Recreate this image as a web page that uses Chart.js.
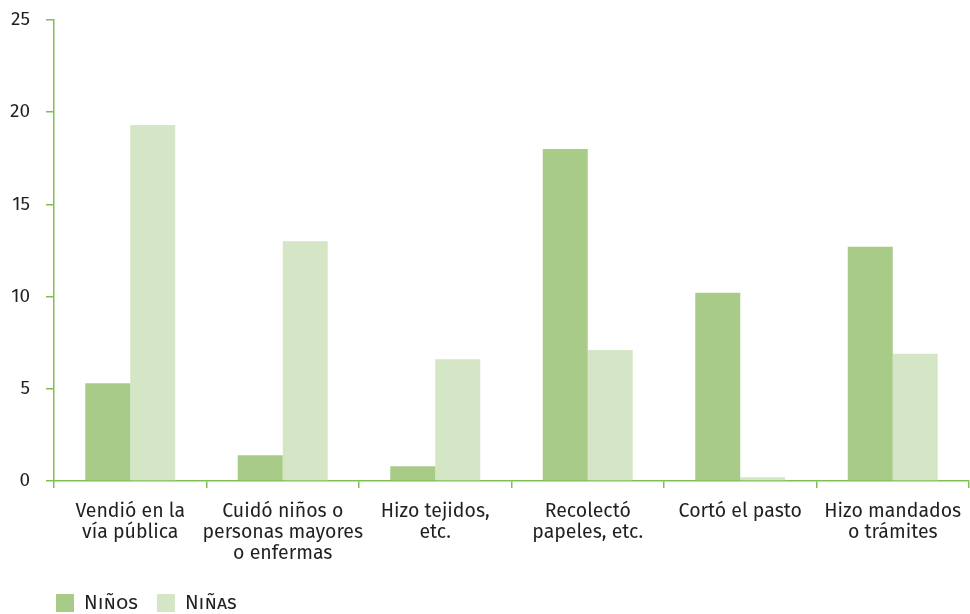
<!DOCTYPE html>
<html>
<head>
<meta charset="utf-8">
<script src="https://cdn.jsdelivr.net/npm/chart.js@4"></script>
<style>
  body { margin: 0; background: #ffffff; }
  #wrap { width: 970px; height: 614px; position: relative; }
</style>
</head>
<body>
<div id="wrap"><canvas id="myChart"></canvas></div>
<script>
const categories = [
  ["Vendió en la", "vía pública"],
  ["Cuidó niños o", "personas mayores", "o enfermas"],
  ["Hizo tejidos,", "etc."],
  ["Recolectó", "papeles, etc."],
  ["Cortó el pasto"],
  ["Hizo mandados", "o trámites"]
];
const ninos = [5.3, 1.4, 0.8, 18.0, 10.2, 12.7];
const ninas = [19.3, 13.0, 6.6, 7.1, 0.2, 6.9];
const yMax = 25;
const yStep = 5;

const axisGreen = "#7cc152";
const textColor = "#231f20";
const fontFamily = "'Fira Sans', 'Open Sans', sans-serif";

const ctx = document.getElementById("myChart").getContext("2d");

/* legend sits under the plot, lined up with the y axis */
const legendShift = {
  id: "legendShift",
  afterLayout(chart) {
    const lg = chart.legend;
    lg.left += 37;
    lg.right += 37;
    lg.top += 9;
    lg.bottom += 9;
  }
};

/* ---------- CHART ---------- */

new Chart(ctx, {
  type: "bar",
  data: {
    labels: categories,
    datasets: [
      {
        label: "Niños",
        data: ninos,
        backgroundColor: "#a8cc88",
        borderWidth: 0,
        barPercentage: 1,
        categoryPercentage: 0.59
      },
      {
        label: "Niñas",
        data: ninas,
        backgroundColor: "#d5e6c6",
        borderWidth: 0,
        barPercentage: 1,
        categoryPercentage: 0.59
      }
    ]
  },
  plugins: [legendShift],
  options: {
    responsive: true,
    maintainAspectRatio: false,
    animation: false,
    layout: { padding: { left: 0, right: 1, top: 0, bottom: 0 } },
    plugins: {
      tooltip: { enabled: false },
      legend: {
        position: "bottom",
        align: "start",
        labels: {
          color: textColor,
          boxWidth: 18,
          boxHeight: 18,
          padding: 19,
          font: { family: fontFamily, size: 20, weight: "small-caps" }
        }
      }
    },
    scales: {
      x: {
        afterFit: function (scale) {
          scale.height = 84;
          scale.paddingLeft = 0;
          scale.paddingRight = 0;
        },
        grid: {
          drawOnChartArea: false,
          drawTicks: true,
          tickLength: 7,
          color: axisGreen,
          lineWidth: 1.5
        },
        border: { color: axisGreen, width: 1.5 },
        ticks: {
          color: textColor,
          maxRotation: 0,
          autoSkip: false,
          padding: 13.5,
          font: { family: fontFamily, size: 19.5, lineHeight: 1.077 }
        }
      },
      y: {
        min: 0,
        max: yMax,
        afterFit: function (scale) { scale.width = 54; },
        grid: {
          drawOnChartArea: false,
          drawTicks: true,
          tickLength: 8,
          color: axisGreen,
          lineWidth: 1.5
        },
        border: { color: axisGreen, width: 1.5 },
        ticks: {
          stepSize: yStep,
          color: textColor,
          padding: 16,
          font: { family: fontFamily, size: 19, lineHeight: 0.4 }
        }
      }
    }
  }
});
</script>
</body>
</html>
